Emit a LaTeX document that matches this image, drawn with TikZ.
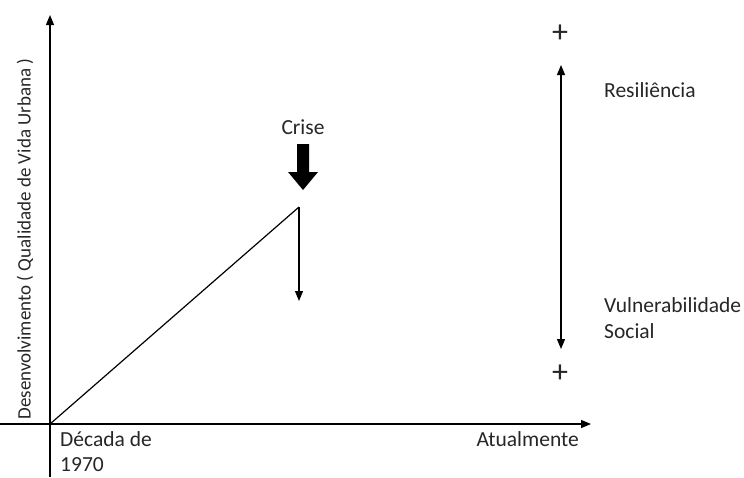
\documentclass[tikz,border=0pt]{standalone}
\usepackage{fontspec}
\setmainfont{Carlito}
\usetikzlibrary{arrows.meta}
\begin{document}
\begin{tikzpicture}[x=1pt,y=-1pt,
  ln/.style={line width=1.2pt,black},
  arr/.style={ln,-{Triangle[length=10pt,width=8pt]}},
  darr/.style={ln,{Triangle[length=10pt,width=8pt]}-{Triangle[length=10pt,width=8pt]}},
  lbl/.style={font=\fontsize{21.5}{25.5}\selectfont,inner sep=0pt,text=black!85},
  plus/.style={font=\fontsize{32}{32}\selectfont,inner sep=0pt,text=black!85}]
\useasboundingbox (0,0) rectangle (744,477);
% axes
\coordinate (O) at (50,424);
\coordinate (ytop) at (50,15);
\coordinate (ybot) at (50,477);
\coordinate (xl) at (0,424);
\coordinate (xr) at (591,424);
\draw[arr] (ybot) -- (ytop);
\draw[arr] (xl) -- (xr);
% curve
\coordinate (peak) at (299,207);
\coordinate (drop) at (299,301);
\draw[ln] (O) -- (peak);
\draw[arr] (peak) -- (drop);
% crisis arrow
\node[lbl] (crise) at (303,127) {Crise};
\fill (297,144) -- (309,144) -- (309,172) -- (318,172) -- (303,190) -- (288,172) -- (297,172) -- cycle;
% right scale
\coordinate (rtop) at (561,65);
\coordinate (rbot) at (561,349);
\draw[darr] (rbot) -- (rtop);
\node[plus] (p1) at (560,34) {+};
\node[plus] (p2) at (560,374) {+};
\node[lbl,anchor=west] (res) at (604,90) {Resiliência};
\node[lbl,anchor=west,align=left] (vul) at (604,318) {Vulnerabilidade\\Social};
% axis labels
\node[lbl,anchor=north west,align=left] (dec) at (60,431) {Década de\\1970};
\node[lbl,anchor=north east] (atu) at (579,431) {Atualmente};
\node[lbl,font=\fontsize{19}{23}\selectfont,rotate=90] (ylab) at (25,239) {Desenvolvimento ( Qualidade de Vida Urbana )};
\end{tikzpicture}
\end{document}
